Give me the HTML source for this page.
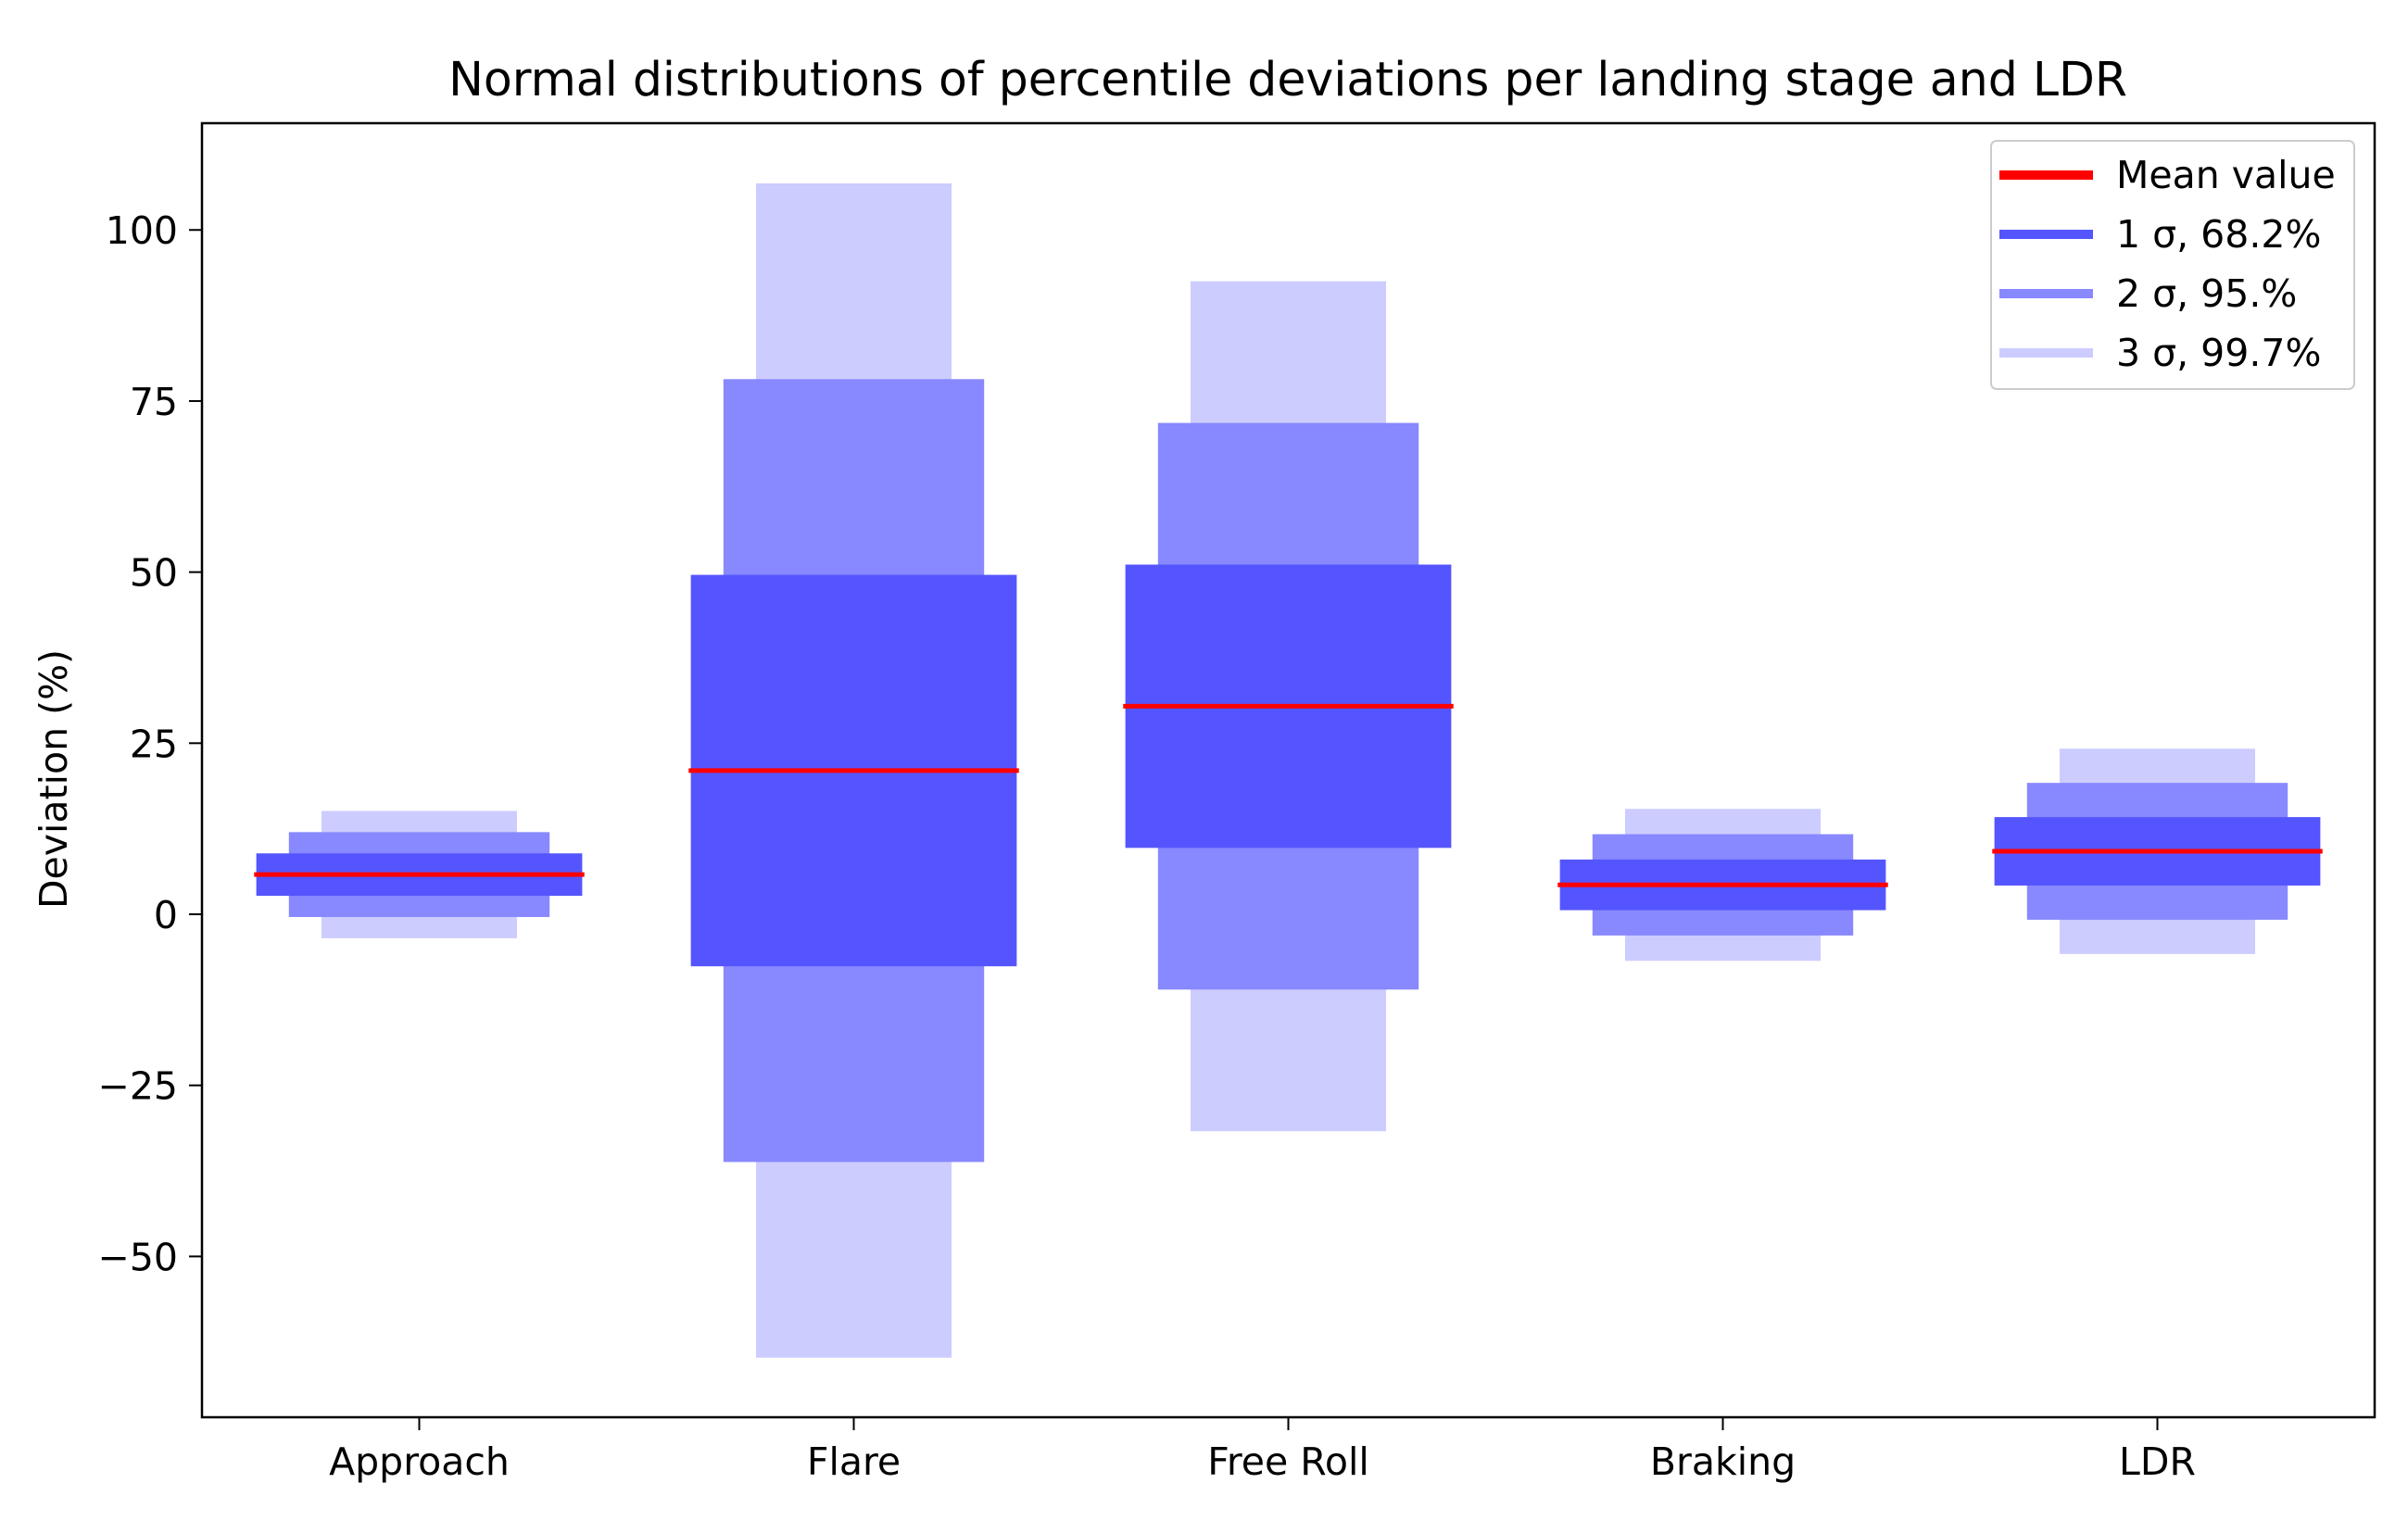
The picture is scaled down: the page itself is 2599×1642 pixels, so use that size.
<!DOCTYPE html>
<html><head><meta charset="utf-8"><style>
html,body{margin:0;padding:0;background:#fff;}
svg{display:block;font-family:"DejaVu Sans","Liberation Sans",sans-serif;}
</style></head><body>
<svg id="chart" width="2599" height="1642" viewBox="0 0 2599 1642" xmlns="http://www.w3.org/2000/svg">
<rect width="2599" height="1642" fill="#fff"/>
<text x="1390" y="103" font-size="50.5" text-anchor="middle" fill="#000">Normal distributions of percentile deviations per landing stage and LDR</text>
<text transform="translate(72,841) rotate(-90)" font-size="41" text-anchor="middle" fill="#000">Deviation (%)</text>
<g id="marks"></g>
<g id="axes"></g>
<g transform="translate(-10,0)">
<rect x="2159" y="152" width="392" height="268" rx="6" fill="#fff" fill-opacity="0.8" stroke="#ccc" stroke-width="2"/>
<line x1="2168" y1="189" x2="2269" y2="189" stroke="#ff0000" stroke-width="10"/>
<text x="2294" y="203" font-size="41">Mean value</text>
<line x1="2168" y1="253" x2="2269" y2="253" stroke="#5555ff" stroke-width="10"/>
<text x="2294" y="267" font-size="41">1 σ, 68.2%</text>
<line x1="2168" y1="317" x2="2269" y2="317" stroke="#8888ff" stroke-width="10"/>
<text x="2294" y="331" font-size="41">2 σ, 95.%</text>
<line x1="2168" y1="381" x2="2269" y2="381" stroke="#ccccff" stroke-width="10"/>
<text x="2294" y="395" font-size="41">3 σ, 99.7%</text>
</g>
</svg>
<script>
const categories = ["Approach", "Flare", "Free Roll", "Braking", "LDR"];
const means = [5.8, 21.0, 30.4, 4.3, 9.2];
const sigmas = [3.1, 28.6, 20.7, 3.7, 5.0];
const yTicks = [-50, -25, 0, 25, 50, 75, 100];
const sigmaLevels = [3, 2, 1];

const NS = "http://www.w3.org/2000/svg";
const L = 218, R = 2563, T = 133, B = 1530;
const xMin = -0.5, xMax = 4.5, yMin = -73.5, yMax = 115.6;
function sx(v){ return L + (v - xMin) / (xMax - xMin) * (R - L); }
function sy(v){ return B - (v - yMin) / (yMax - yMin) * (B - T); }
function mk(tag, attrs, parent){
  const e = document.createElementNS(NS, tag);
  for (const k in attrs) e.setAttribute(k, attrs[k]);
  parent.appendChild(e); return e;
}
const marks = document.getElementById("marks");
const axes = document.getElementById("axes");
const colors = {1:"#5555ff", 2:"#8888ff", 3:"#ccccff"};
const widths = {1:0.75, 2:0.6, 3:0.45};
categories.forEach((c, i) => {
  sigmaLevels.forEach(k => {
    const lo = means[i] - k * sigmas[i], hi = means[i] + k * sigmas[i];
    const w = widths[k];
    const r = mk("rect", {x: sx(i - w/2), y: sy(hi), width: sx(i + w/2) - sx(i - w/2), height: sy(lo) - sy(hi), fill: colors[k]}, marks);
    
    
  });
  const ln = mk("line", {x1: sx(i - 0.38), x2: sx(i + 0.38), y1: sy(means[i]), y2: sy(means[i]), stroke: "#ff0000", "stroke-width": 5}, marks);
  
  
  const t = mk("line", {x1: sx(i), x2: sx(i), y1: B, y2: B + 14, stroke: "#000", "stroke-width": 2}, axes);
  
  
  const lb = mk("text", {x: sx(i), y: B + 62, "font-size": 41, "text-anchor": "middle"}, axes);
  lb.textContent = c;
  
  
});
yTicks.forEach(v => {
  const t = mk("line", {x1: L - 14, x2: L, y1: sy(v), y2: sy(v), stroke: "#000", "stroke-width": 2}, axes);
  
  
  const lb = mk("text", {x: L - 26, y: sy(v) + 15, "font-size": 41, "text-anchor": "end"}, axes);
  lb.textContent = v < 0 ? "\u2212" + Math.abs(v) : String(v);
  
  
});
const frame = mk("rect", {x: L, y: T, width: R - L, height: B - T, fill: "none", stroke: "#000", "stroke-width": 2.5}, axes);


</script>
</body></html>
